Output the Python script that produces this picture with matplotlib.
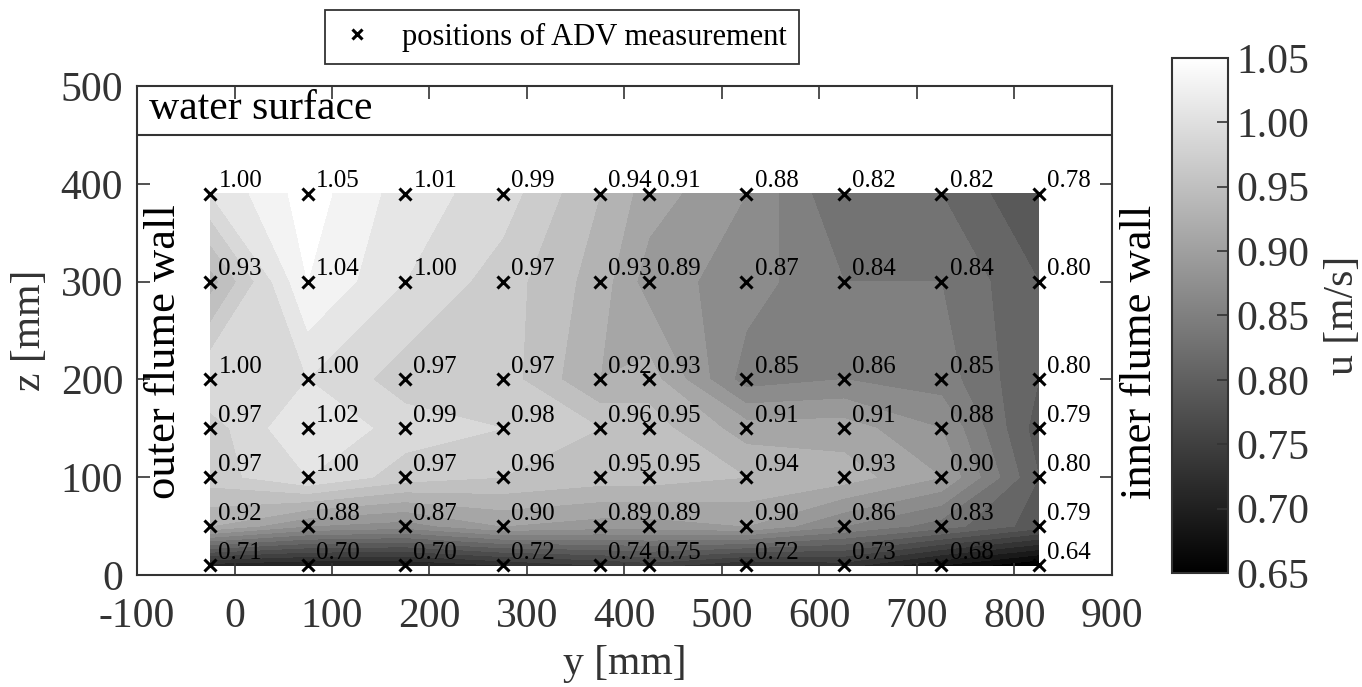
import numpy as np
import matplotlib.pyplot as plt
from matplotlib import cm, colors

plt.rcParams['font.family'] = ['Liberation Serif', 'DejaVu Serif']
plt.rcParams['axes.unicode_minus'] = False

# measurement positions
y_pos = [-25, 75, 175, 275, 375, 425, 525, 625, 725, 825]
z_pos = [10, 50, 100, 150, 200, 300, 390]

# streamwise velocity u [m/s], one row per z (bottom to top)
u_z10 = [0.71, 0.70, 0.70, 0.72, 0.74, 0.75, 0.72, 0.73, 0.68, 0.64]
u_z50 = [0.92, 0.88, 0.87, 0.90, 0.89, 0.89, 0.90, 0.86, 0.83, 0.79]
u_z100 = [0.97, 1.00, 0.97, 0.96, 0.95, 0.95, 0.94, 0.93, 0.90, 0.80]
u_z150 = [0.97, 1.02, 0.99, 0.98, 0.96, 0.95, 0.91, 0.91, 0.88, 0.79]
u_z200 = [1.00, 1.00, 0.97, 0.97, 0.92, 0.93, 0.85, 0.86, 0.85, 0.80]
u_z300 = [0.93, 1.04, 1.00, 0.97, 0.93, 0.89, 0.87, 0.84, 0.84, 0.80]
u_z390 = [1.00, 1.05, 1.01, 0.99, 0.94, 0.91, 0.88, 0.82, 0.82, 0.78]

U = np.array([u_z10, u_z50, u_z100, u_z150, u_z200, u_z300, u_z390])
Y, Z = np.meshgrid(y_pos, z_pos)

x_ticks = np.arange(-100, 901, 100)
z_ticks = np.arange(0, 501, 100)
cb_ticks = [0.65, 0.70, 0.75, 0.80, 0.85, 0.90, 0.95, 1.00, 1.05]

fig = plt.figure(figsize=(13.62, 6.87), dpi=100)
ax = fig.add_axes([0.1006, 0.163, 0.7158, 0.7118])

norm = colors.Normalize(vmin=0.65, vmax=1.05)
levels = np.arange(0.60, 1.07, 0.02)
ax.contourf(Y, Z, U, levels=levels, cmap='gray', norm=norm)

pts = ax.plot(Y.ravel(), Z.ravel(), 'x', color='black', markersize=9,
              markeredgewidth=2.2, linestyle='none',
              label='positions of ADV measurement')

for i in range(len(z_pos)):
    for j in range(len(y_pos)):
        ax.annotate('%.2f' % U[i, j], (y_pos[j], z_pos[i]), xytext=(6, 1),
                    textcoords='offset points', ha='left', va='bottom',
                    fontsize=18, color='black')

# water surface
ax.axhline(450, color='#333333', lw=1.5)
ax.text(-88, 477, 'water surface', fontsize=30, va='center', ha='left')
ax.text(-72, 228, 'outer flume wall', fontsize=32, rotation=90,
        va='center', ha='center')
ax.text(929, 228, 'inner flume wall', fontsize=32, rotation=90,
        va='center', ha='center', clip_on=False)

ax.set_xlim(-100, 900)
ax.set_ylim(0, 500)
ax.set_xticks(x_ticks)
ax.set_yticks(z_ticks)
ax.tick_params(direction='in', length=9, width=1.2, top=True, right=True,
               labelsize=30, colors='#333333')
ax.tick_params(axis='x', pad=16)
ax.tick_params(axis='y', pad=10)
for s in ax.spines.values():
    s.set_color('#333333')
    s.set_linewidth(1.5)
ax.set_xlabel('y [mm]', fontsize=30, color='#333333', labelpad=6)
ax.set_ylabel('z [mm]', fontsize=30, color='#333333', labelpad=8)

leg = fig.legend(handles=pts, loc='center', bbox_to_anchor=(0.4126, 0.946),
                 fontsize=22, fancybox=False, framealpha=1,
                 edgecolor='#333333', handlelength=1.3, borderpad=0.42,
                 handletextpad=0.8, markerscale=0.75)
leg.get_frame().set_linewidth(1.3)

cax = fig.add_axes([0.8605, 0.166, 0.0411, 0.7496])
sm = cm.ScalarMappable(norm=norm, cmap='gray')
cb = fig.colorbar(sm, cax=cax, ticks=cb_ticks)
cb.ax.set_yticklabels(['%.2f' % t for t in cb_ticks])
cb.ax.tick_params(direction='in', length=8, width=1.2, labelsize=30,
                  colors='#333333', pad=6)
cb.outline.set_edgecolor('#333333')
cb.outline.set_linewidth(1.5)
cb.set_label('u [m/s]', fontsize=30, color='#333333', labelpad=10)

fig.savefig('out.png', dpi=100)
